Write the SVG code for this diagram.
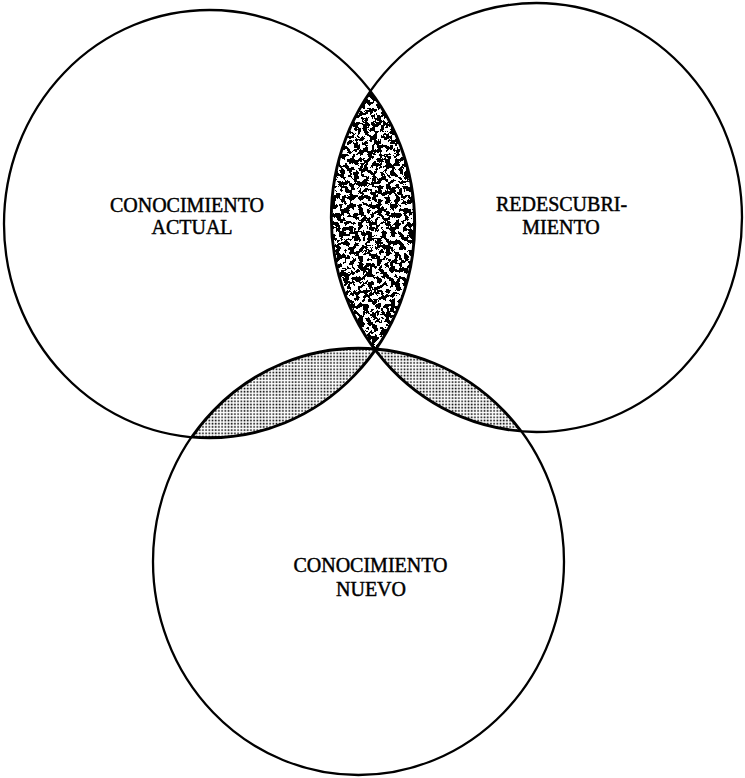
<svg xmlns="http://www.w3.org/2000/svg" width="745" height="778" viewBox="0 0 745 778">
  <style>
    .ring { fill: none; stroke: #000; stroke-width: 2.3; }
    .edge { fill: none; stroke: #000; stroke-width: 3.4; }
    .lbl { font-family: "Liberation Serif", "Times New Roman", serif; font-size: 20px; fill: #000; stroke: #000; stroke-width: 0.45; text-anchor: middle; }
  </style>
  <defs>
    <ellipse id="cL" cx="209.5" cy="224" rx="205.5" ry="214"/>
    <ellipse id="cR" cx="536.5" cy="217.5" rx="205.5" ry="214.5"/>
    <ellipse id="cB" cx="358.5" cy="561.5" rx="205.5" ry="213.5"/>
    <clipPath id="clipL"><use href="#cL"/></clipPath>
    <clipPath id="clipR"><use href="#cR"/></clipPath>
    <clipPath id="clipB"><use href="#cB"/></clipPath>
    <filter id="speckle" filterUnits="objectBoundingBox" x="0" y="0" width="1" height="1">
      <feTurbulence type="fractalNoise" baseFrequency="0.22" numOctaves="3" seed="7" result="n"/>
      <feColorMatrix in="n" type="matrix" values="0 0 0 0 0  0 0 0 0 0  0 0 0 0 0  1 0 0 0 0" result="a"/>
      <feComponentTransfer in="a">
        <feFuncA type="discrete" tableValues="0 0 0 0 0 1 1 1 1 1"/>
      </feComponentTransfer>
    </filter>
    <pattern id="dots" patternUnits="userSpaceOnUse" width="3.2" height="3.2">
      <rect x="0.5" y="0.5" width="1.6" height="1.6" fill="#000"/>
    </pattern>
  </defs>

  <g id="shading">
    <g clip-path="url(#clipL)">
      <g clip-path="url(#clipR)">
        <rect x="320" y="80" width="100" height="280" fill="#fff"/>
        <rect x="320" y="80" width="100" height="280" fill="#000" filter="url(#speckle)"/>
        <use href="#cL" class="edge"/>
        <use href="#cR" class="edge"/>
      </g>
    </g>
    <g clip-path="url(#clipL)">
      <g clip-path="url(#clipB)">
        <rect x="180" y="340" width="200" height="105" fill="url(#dots)"/>
        <use href="#cL" class="edge"/>
        <use href="#cB" class="edge"/>
      </g>
    </g>
    <g clip-path="url(#clipR)">
      <g clip-path="url(#clipB)">
        <rect x="370" y="340" width="160" height="100" fill="url(#dots)"/>
        <use href="#cR" class="edge"/>
        <use href="#cB" class="edge"/>
      </g>
    </g>
  </g>

  <g id="conocimiento-actual">
    <use href="#cL" class="ring"/>
    <text class="lbl" x="187" y="212">CONOCIMIENTO</text>
    <text class="lbl" x="192" y="234">ACTUAL</text>
  </g>
  <g id="redescubrimiento">
    <use href="#cR" class="ring"/>
    <text class="lbl" x="561.5" y="211">REDESCUBRI-</text>
    <text class="lbl" x="561" y="234">MIENTO</text>
  </g>
  <g id="conocimiento-nuevo">
    <use href="#cB" class="ring"/>
    <text class="lbl" x="370.5" y="572">CONOCIMIENTO</text>
    <text class="lbl" x="371" y="596">NUEVO</text>
  </g>
</svg>
